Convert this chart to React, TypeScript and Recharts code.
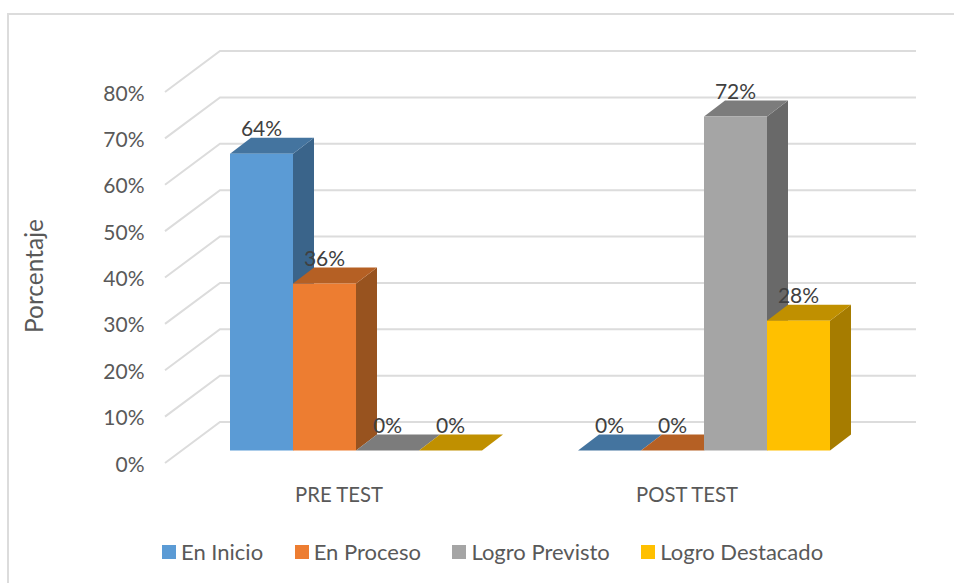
import React from 'react';
import { BarChart, Bar, XAxis, YAxis, CartesianGrid, Legend } from 'recharts';

const categories = ['PRE TEST', 'POST TEST'];
const enInicio = [64, 0];
const enProceso = [36, 0];
const logroPrevisto = [0, 72];
const logroDestacado = [0, 28];
const yTicks = [0, 10, 20, 30, 40, 50, 60, 70, 80];

const data = categories.map((name, i) => ({
  name,
  inicio: enInicio[i],
  proceso: enProceso[i],
  previsto: logroPrevisto[i],
  destacado: logroDestacado[i],
}));

const FONT = 'Lato, sans-serif';
const GRID = '#DCDCDC';

// 3D offsets, from the plane of the bars
const BAR_DX = 21;
const BAR_DY = 16;
const BACK_DX = 37.5;
const BACK_DY = 28.5;
const FRONT_DX = 17.5;
const FRONT_DY = 12.5;

const make3dBar = (front: string, top: string, side: string) => (props: any) => {
  const { x, y, width, height } = props;
  const b = y + height;
  const r = x + width;
  return (
    <g>
      <polygon points={`${r},${y} ${r + BAR_DX},${y - BAR_DY} ${r + BAR_DX},${b - BAR_DY} ${r},${b}`} fill={side} />
      <polygon points={`${x},${y} ${x + BAR_DX},${y - BAR_DY} ${r + BAR_DX},${y - BAR_DY} ${r},${y}`} fill={top} />
      <rect x={x} y={y} width={width} height={height} fill={front} />
    </g>
  );
};

const gridLine = (props: any) => {
  const { x1, x2, y1 } = props;
  const backX = x1 + BACK_DX;
  const backY = y1 - BACK_DY;
  return (
    <polyline
      key={`grid-${y1}`}
      points={`${x1 - FRONT_DX},${y1 + FRONT_DY} ${backX},${backY} ${x2 + BACK_DX},${backY}`}
      fill="none"
      stroke={GRID}
      strokeWidth={2}
    />
  );
};

const YTick = ({ y, payload }: any) => (
  <text x={144.5} y={y + FRONT_DY} textAnchor="end" dominantBaseline="central" fontFamily={FONT} fontSize={21} fill="#595959">
    {payload.value}%
  </text>
);

const XTick = ({ x, y, payload }: any) => (
  <text x={x - FRONT_DX} y={y} textAnchor="middle" dominantBaseline="central" fontFamily={FONT} fontSize={20.3} fill="#595959">
    {payload.value}
  </text>
);

const AxisTitle = ({ viewBox }: any) => (
  <text
    transform={`translate(33.5, ${viewBox.y + viewBox.height / 2 + 11}) rotate(-90)`}
    textAnchor="middle"
    dominantBaseline="central"
    fontFamily={FONT}
    fontSize={24.5}
    fill="#595959"
  >
    Porcentaje
  </text>
);

const LegendRow = ({ payload }: any) => (
  <div style={{ display: 'flex', gap: 31.5, fontFamily: FONT, fontSize: 22, color: '#595959', lineHeight: '24px' }}>
    {payload.map((p: any) => (
      <div key={p.value} style={{ display: 'flex', alignItems: 'center', gap: 5 }}>
        <span style={{ width: 14, height: 14, background: p.color, display: 'inline-block' }} />
        {p.value}
      </div>
    ))}
  </div>
);

const labelStyle = {
  position: 'top' as const,
  offset: 18,
  fill: '#404040',
  fontFamily: FONT,
  fontSize: 21,
  formatter: (v: number) => `${v}%`,
};

export default function App() {
  return (
    <div style={{ position: 'absolute', left: 0, top: 0, width: 954, height: 583, background: '#fff', overflow: 'hidden' }}>
      <div style={{ position: 'absolute', left: 7, top: 13, width: 960, height: 580, borderLeft: '2px solid #DCDCDC', borderTop: '2px solid #DCDCDC' }} />
      <BarChart
        width={954}
        height={583}
        data={data}
        barCategoryGap={47.5}
        barGap={0}
        margin={{ top: 79.5, right: 75.5, bottom: 68.5, left: 0 }}
        style={{ position: 'absolute', left: 0, top: 0 }}
      >
        <CartesianGrid vertical={false} horizontal={gridLine} />
        <XAxis dataKey="name" height={40} axisLine={false} tickLine={false} tick={XTick} tickMargin={37} />
        <YAxis
          width={182.5}
          domain={[0, 80]}
          ticks={yTicks}
          axisLine={false}
          tickLine={false}
          tick={YTick}
          label={{ content: AxisTitle }}
        />
        <Legend
          content={LegendRow}
          itemSorter={null}
          height={24}
          wrapperStyle={{ left: 162, top: 540, bottom: 'auto', width: 'auto' }}
        />
        <Bar dataKey="inicio" name="En Inicio" fill="#5B9BD5" isAnimationActive={false} shape={make3dBar('#5B9BD5', '#44749F', '#3A648A')} label={labelStyle} />
        <Bar dataKey="proceso" name="En Proceso" fill="#ED7D31" isAnimationActive={false} shape={make3dBar('#ED7D31', '#B56024', '#98531F')} label={labelStyle} />
        <Bar dataKey="previsto" name="Logro Previsto" fill="#A5A5A5" isAnimationActive={false} shape={make3dBar('#A5A5A5', '#7C7C7C', '#696969')} label={labelStyle} />
        <Bar dataKey="destacado" name="Logro Destacado" fill="#FFC000" isAnimationActive={false} shape={make3dBar('#FFC000', '#C09000', '#A67C00')} label={labelStyle} />
      </BarChart>
    </div>
  );
}
